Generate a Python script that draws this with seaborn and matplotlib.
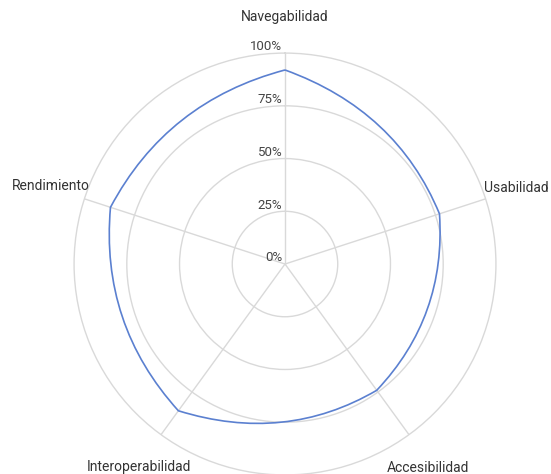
import numpy as np
import seaborn as sns
import matplotlib.pyplot as plt
from matplotlib.path import Path
from matplotlib.patches import PathPatch

# Valores (porcentaje)
categorias = ['Navegabilidad', 'Usabilidad', 'Accesibilidad', 'Interoperabilidad', 'Rendimiento']
valores = [92, 77, 74, 86, 87]
ticks_r = [0, 25, 50, 75, 100]
ticks_txt = ['0%', '25%', '50%', '75%', '100%']

sns.set_style('white')
plt.rcParams['font.family'] = ['Roboto', 'DejaVu Sans']
color_linea = '#5b80d0'

angulos = np.linspace(0, 2 * np.pi, len(categorias), endpoint=False)

fig = plt.figure(figsize=(5.51, 4.74), dpi=100)
ax = fig.add_axes([0.1343, -0.002, 0.7659, 0.890], projection='polar')
ax.set_theta_zero_location('N')
ax.set_theta_direction(-1)

# línea con tramos ligeramente curvados (bezier cuadrática por tramo,
# punto de control sobre la bisectriz), esquinas en cada categoría
curvatura = 1.066
verts = [(angulos[0], valores[0])]
codes = [Path.MOVETO]
n = len(valores)
for i in range(n):
    t0, r0 = angulos[i], valores[i]
    t1 = angulos[i + 1] if i + 1 < n else 2 * np.pi
    r1 = valores[(i + 1) % n]
    verts += [((t0 + t1) / 2, curvatura * (r0 + r1) / 2), (t1, r1)]
    codes += [Path.CURVE3, Path.CURVE3]
ax.add_patch(PathPatch(Path(verts, codes), facecolor='none',
                       edgecolor=color_linea, linewidth=1.2, zorder=3))

ax.set_ylim(0, 100)
ax.set_xlim(0, 2 * np.pi)
ax.set_yticks(ticks_r[1:-1])
ax.set_yticklabels([])
ax.set_xticks(angulos)
ax.set_xticklabels([])
ax.grid(True, color='#d9d9d9', linewidth=1)
ax.spines['polar'].set_color('#d9d9d9')
ax.spines['polar'].set_linewidth(1)

# etiquetas radiales a la izquierda del eje superior
for r, t in zip(ticks_r, ticks_txt):
    ax.annotate(t, xy=(0, r), xytext=(-2, 2), textcoords='offset points',
                ha='right', va='baseline', fontsize=9.5, color='#444444')

# etiquetas de categoría: (radio, ha, va, desplazamiento en puntos)
pos = {
    'Navegabilidad': (114, 'center', 'bottom', (0, 0)),
    'Usabilidad': (100, 'left', 'bottom', (-1, 3)),
    'Accesibilidad': (112, 'center', 'top', (3, -4)),
    'Interoperabilidad': (114, 'center', 'top', (-3.5, -1)),
    'Rendimiento': (100, 'right', 'bottom', (4, 4)),
}
for ang, cat in zip(angulos, categorias):
    rr, ha, va, off = pos[cat]
    ax.annotate(cat, xy=(ang, rr), xytext=off, textcoords='offset points',
                ha=ha, va=va, fontsize=10, color='#333333',
                annotation_clip=False)

fig.savefig('out.png', dpi=100)
